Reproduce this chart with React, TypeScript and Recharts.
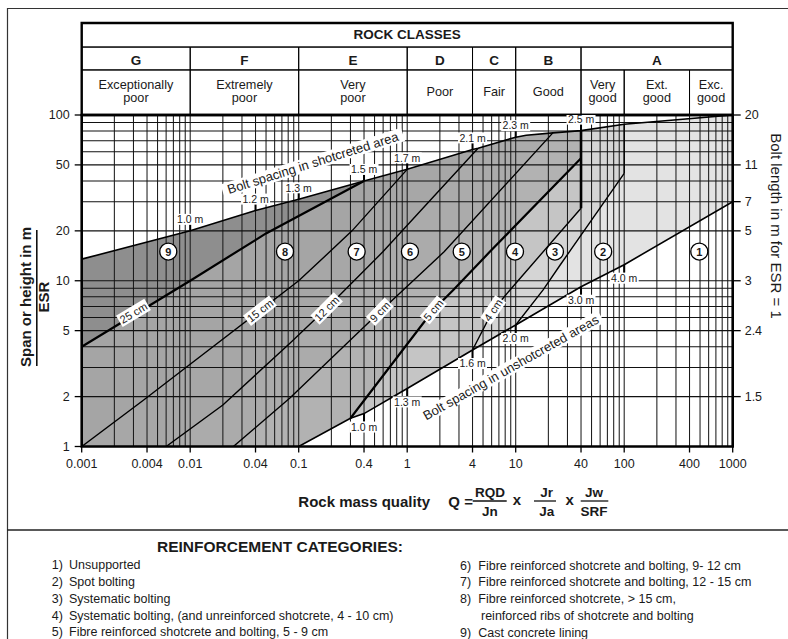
import React from 'react';
import { ComposedChart, XAxis, YAxis, Area, Line, Scatter, ReferenceLine, ReferenceArea } from 'recharts';

const FONT = '"Liberation Sans", Arial, Helvetica, sans-serif';
const INK = '#1a1a1a';

// ---------- axis ticks ----------
const qTicks = [0.001, 0.004, 0.01, 0.04, 0.1, 0.4, 1, 4, 10, 40, 100, 400, 1000];
const spanTicks = [1, 2, 5, 10, 20, 50, 100];
const boltSpanTicks = [2, 5, 10, 20, 30, 50, 100];
const boltLengthLabels = ['1.5', '2.4', '3', '5', '7', '11', '20'];

// ---------- grid values ----------
const qGrid = [
  0.002, 0.003, 0.004, 0.005, 0.006, 0.007, 0.008, 0.009,
  0.01, 0.02, 0.03, 0.04, 0.05, 0.06, 0.07, 0.08, 0.09,
  0.1, 0.2, 0.3, 0.4, 0.5, 0.6, 0.7, 0.8, 0.9,
  1, 2, 3, 4, 5, 6, 7, 8, 9,
  10, 20, 30, 40, 50, 60, 70, 80, 90,
  100, 200, 300, 400, 500, 600, 700, 800, 900,
];
const spanGrid = [2, 3, 4, 5, 6, 7, 8, 9, 10, 20, 30, 40, 50, 60, 70, 80, 90];

// ---------- rock classes header ----------
const classLetters = ['G', 'F', 'E', 'D', 'C', 'B', 'A'];
const classBounds = [0.001, 0.01, 0.1, 1, 4, 10, 40, 1000];
const classNames = [
  ['Exceptionally', 'poor'], ['Extremely', 'poor'], ['Very', 'poor'], ['Poor'], ['Fair'], ['Good'],
  ['Very', 'good'], ['Ext.', 'good'], ['Exc.', 'good'],
];
const classNameBounds = [0.001, 0.01, 0.1, 1, 4, 10, 40, 100, 400, 1000];

// ---------- boundaries (Q, span/ESR) ----------
const topBoundary = [
  { q: 0.001, s: 13.5 }, { q: 0.01, s: 20 }, { q: 0.04, s: 26.5 }, { q: 0.1, s: 31 },
  { q: 0.4, s: 40 }, { q: 1, s: 47 }, { q: 4, s: 62 }, { q: 4.5, s: 63 }, { q: 10, s: 73.5 },
  { q: 12.5, s: 75.5 }, { q: 22, s: 78 }, { q: 40, s: 80.5 }, { q: 100, s: 88 }, { q: 1000, s: 100 },
];
const lowerBoundary = [
  { q: 0.1, s: 1 }, { q: 0.3, s: 1.48 }, { q: 0.4, s: 1.58 }, { q: 1, s: 2.24 }, { q: 4, s: 3.82 },
  { q: 10, s: 5.41 }, { q: 40, s: 9.2 }, { q: 100, s: 12.5 }, { q: 1000, s: 30 },
];
const line25 = [{ q: 0.001, s: 4 }, { q: 0.01, s: 10 }, { q: 0.05, s: 19.3 }, { q: 0.4, s: 40 }];
const line15 = [
  { q: 0.001, s: 1 }, { q: 0.0037, s: 1.9 }, { q: 0.1, s: 10 }, { q: 0.19, s: 14.8 }, { q: 0.31, s: 20 }, { q: 1, s: 47 },
];
const line12 = [
  { q: 0.006, s: 1 }, { q: 0.02, s: 1.78 }, { q: 0.083, s: 4.2 }, { q: 0.18, s: 6.8 }, { q: 0.6, s: 15 }, { q: 4.5, s: 63 },
];
const line9 = [
  { q: 0.025, s: 1 }, { q: 0.083, s: 1.96 }, { q: 0.56, s: 6.5 }, { q: 0.92, s: 8.8 }, { q: 2.2, s: 15 }, { q: 22, s: 78 },
];
const line5 = [{ q: 0.3, s: 1.48 }, { q: 1.74, s: 6.66 }, { q: 2.66, s: 8.8 }, { q: 5.8, s: 15 }, { q: 40, s: 54.8 }];
const line4 = [{ q: 4, s: 3.82 }, { q: 6.2, s: 6.66 }, { q: 8.86, s: 8.8 }, { q: 40, s: 27.4 }];
const line3 = [{ q: 10, s: 5.41 }, { q: 17.9, s: 8.8 }, { q: 25.6, s: 12.4 }, { q: 100, s: 44.5 }];

// ---------- annotations ----------
const topMarkerQ = [0.01, 0.04, 0.1, 0.4, 1, 4, 10, 40];
const topMarkerLabels = ['1.0 m', '1.2 m', '1.3 m', '1.5 m', '1.7 m', '2.1 m', '2.3 m', '2.5 m'];
const lowerMarkerQ = [0.4, 1, 4, 10, 40, 100];
const lowerMarkerLabels = ['1.0 m', '1.3 m', '1.6 m', '2.0 m', '3.0 m', '4.0 m'];

const categoryNumbers = [1, 2, 3, 4, 5, 6, 7, 8, 9];
const categoryQ = [492, 64, 23, 9.85, 3.18, 1.06, 0.342, 0.0748, 0.00628];
const categorySpan = [15, 15, 15, 15, 15, 15, 15, 15, 15];

const thicknessLabels = ['25 cm', '15 cm', '12 cm', '9 cm', '5 cm', '4 cm'];
const thicknessQ = [0.003, 0.044, 0.181, 0.56, 1.74, 6.2];
const thicknessSpan = [6.4, 6.6, 6.8, 6.5, 6.66, 6.66];

const boundaryTexts = ['Bolt spacing in shotcreted area', 'Bolt spacing in unshotcreted areas'];
const boundaryTextQ = [0.135, 9];
const boundaryTextSpan = [51.5, 3.0];

const legendLeft = [
  'Unsupported', 'Spot bolting', 'Systematic bolting',
  'Systematic bolting, (and unreinforced shotcrete, 4 - 10 cm)',
  'Fibre reinforced shotcrete and bolting, 5 - 9 cm',
];
const legendRight = [
  ['Fibre reinforced shotcrete and bolting, 9- 12 cm'],
  ['Fibre reinforced shotcrete and bolting, 12 - 15 cm'],
  ['Fibre reinforced shotcrete, > 15 cm,', 'reinforced ribs of shotcrete and bolting'],
  ['Cast concrete lining'],
];

// ---------- styles (not data) ----------
const REGION_COLORS = {
  r9: '#8e8e8e', r8: '#a5a5a5', r7: '#a7a7a7', r6: '#ababab', r5: '#b2b2b2',
  r4: '#c5c5c5', r3: '#d5d5d5', r2: '#e3e3e3', r1: '#ffffff',
};
const THICKNESS_ANGLE: Record<string, number> = {
  '25 cm': -31, '15 cm': -38, '12 cm': -45, '9 cm': -46, '5 cm': -50, '4 cm': -56,
};
const BOUNDARY_TEXT_ANGLE: Record<string, number> = {
  'Bolt spacing in shotcreted area': -17.5,
  'Bolt spacing in unshotcreted areas': -29.5,
};
const HEADER_TOP = 359;
const HEADER_ROW1 = 257;
const HEADER_ROW2 = 187;

// ---------- derived tables ----------
const tail = (minQ: number, inclusive = false) =>
  topBoundary.filter((p) => (inclusive ? p.q >= minQ : p.q > minQ));
const fill9 = topBoundary;
const fill8 = [...line25, ...tail(0.4)];
const fill7 = [...line15, ...tail(1)];
const fill6 = [...line12, ...tail(4.5)];
const fill5 = [...line9, ...tail(22)];
const fill4 = line5;
const fill3 = [...line4, ...tail(40, true)];
const fill2 = [...line3, ...tail(100, true)];
const fill1 = lowerBoundary;
const vertical40 = [line4[line4.length - 1], topBoundary.find((p) => p.q === 40)!];
const vertical100 = [line3[line3.length - 1], topBoundary.find((p) => p.q === 100)!];

const topMarkers = topMarkerQ.map((q, i) => ({ q, s: topBoundary.find((p) => p.q === q)!.s, label: topMarkerLabels[i] }));
const lowerMarkers = lowerMarkerQ.map((q, i) => ({ q, s: lowerBoundary.find((p) => p.q === q)!.s, label: lowerMarkerLabels[i] }));
const categories = categoryNumbers.map((n, i) => ({ q: categoryQ[i], s: categorySpan[i], n }));
const thickness = thicknessLabels.map((t, i) => ({ q: thicknessQ[i], s: thicknessSpan[i], text: t }));
const bTexts = boundaryTexts.map((t, i) => ({ q: boundaryTextQ[i], s: boundaryTextSpan[i], text: t }));
const boltLabelOf = (v: number) => boltLengthLabels[boltSpanTicks.indexOf(v)] ?? '';

// ---------- shapes ----------
const TopMarkerShape = (p: any) => {
  const { cx, cy, payload } = p;
  const w = payload.label.length * 5.4 + 2;
  return (
    <g>
      <line x1={cx} y1={cy} x2={cx} y2={cy - 7} stroke="#000" strokeWidth={2} />
      <rect x={cx - w / 2} y={cy - 17} width={w} height={11} fill="#fff" />
      <text x={cx} y={cy - 7.8} textAnchor="middle" fontSize={10.5} fontFamily={FONT} fill={INK}>{payload.label}</text>
    </g>
  );
};
const LowerMarkerShape = (p: any) => {
  const { cx, cy, payload } = p;
  const w = payload.label.length * 5.4 + 2;
  return (
    <g>
      <line x1={cx} y1={cy} x2={cx} y2={cy + 8} stroke="#000" strokeWidth={2} />
      <rect x={cx - w / 2} y={cy + 8} width={w} height={11} fill="#fff" />
      <text x={cx} y={cy + 17.3} textAnchor="middle" fontSize={10.5} fontFamily={FONT} fill={INK}>{payload.label}</text>
    </g>
  );
};
const CategoryShape = (p: any) => {
  const { cx, cy, payload } = p;
  return (
    <g>
      <circle cx={cx} cy={cy} r={8.5} fill="#fff" stroke="#000" strokeWidth={1.3} />
      <text x={cx} y={cy + 4} textAnchor="middle" fontSize={11} fontWeight="bold" fontFamily={FONT} fill={INK}>{payload.n}</text>
    </g>
  );
};
const ThicknessShape = (p: any) => {
  const { cx, cy, payload } = p;
  const w = payload.text.length * 6 + 3;
  const a = THICKNESS_ANGLE[payload.text] ?? -45;
  return (
    <g transform={`translate(${cx},${cy}) rotate(${a})`}>
      <rect x={-w / 2} y={-6.5} width={w} height={13} fill="#fff" />
      <text x={0} y={4} textAnchor="middle" fontSize={11} fontFamily={FONT} fill={INK}>{payload.text}</text>
    </g>
  );
};
const BoundaryTextShape = (p: any) => {
  const { cx, cy, payload } = p;
  const a = BOUNDARY_TEXT_ANGLE[payload.text] ?? 0;
  const w = payload.text.length * 6.1;
  return (
    <g transform={`translate(${cx},${cy}) rotate(${a})`}>
      <rect x={-w / 2} y={-7} width={w} height={14} fill="#fff" />
      <text x={0} y={4.6} textAnchor="middle" fontSize={13} fontFamily={FONT} fill={INK}>{payload.text}</text>
    </g>
  );
};

const headerLabel = (lines: string[], bold: boolean, size: number, shift: number, lh = 13) => (props: any) => {
  const vb = props.viewBox || {};
  const cx = vb.x + vb.width / 2;
  const cy = vb.y + vb.height / 2 + shift;
  const y0 = cy - ((lines.length - 1) * lh) / 2;
  return (
    <text textAnchor="middle" fontFamily={FONT} fontSize={size} fontWeight={bold ? 'bold' : 'normal'} fill={INK}>
      {lines.map((l, i) => (
        <tspan key={i} x={cx} y={y0 + i * lh} dy="0.36em">{l}</tspan>
      ))}
    </text>
  );
};

const lineProps = { dataKey: 's', dot: false, activeDot: false, isAnimationActive: false, legendType: 'none' as const, type: 'linear' as const, stroke: '#000' };
const areaProps = { dataKey: 's', isAnimationActive: false, legendType: 'none' as const, type: 'linear' as const, stroke: 'none', fillOpacity: 1, baseValue: 1, activeDot: false, dot: false };

export default function App() {
  return (
    <div style={{ position: 'absolute', left: 0, top: 0, width: 788, height: 639, background: '#fff', fontFamily: FONT }}>
      <ComposedChart
        width={788}
        height={639}
        margin={{ top: 115, right: 15.3, bottom: 162.5, left: 21.7 }}
        style={{ fontFamily: FONT }}
      >
        <XAxis
          dataKey="q" type="number" scale="log" domain={[0.001, 1000]} allowDataOverflow
          ticks={qTicks} interval={0} tickFormatter={(v: number) => String(v)}
          axisLine={false} tickLine={{ stroke: '#000', strokeWidth: 1.3 }} tickSize={6} tickMargin={7} height={30}
          tick={{ fill: INK, fontSize: 12.5, fontFamily: FONT }}
        />
        <YAxis
          yAxisId={0} dataKey="s" type="number" scale="log" domain={[1, 100]} allowDataOverflow
          ticks={spanTicks} interval={0} tickFormatter={(v: number) => String(v)}
          axisLine={false} tickLine={{ stroke: '#000', strokeWidth: 1.3 }} tickSize={7} tickMargin={5} width={60}
          tick={{ fill: INK, fontSize: 12.5, fontFamily: FONT }}
        />
        <YAxis
          yAxisId="right" orientation="right" dataKey="s" type="number" scale="log" domain={[1, 100]} allowDataOverflow
          ticks={boltSpanTicks} interval={0} tickFormatter={boltLabelOf}
          axisLine={false} tickLine={{ stroke: '#000', strokeWidth: 1.3 }} tickSize={8} tickMargin={4} width={40}
          tick={{ fill: INK, fontSize: 12.5, fontFamily: FONT }}
        />

        {/* region fills, painted in order */}
        <Area {...areaProps} data={fill9} fill={REGION_COLORS.r9} zIndex={100} />
        <Area {...areaProps} data={fill8} fill={REGION_COLORS.r8} zIndex={100} />
        <Area {...areaProps} data={fill7} fill={REGION_COLORS.r7} zIndex={100} />
        <Area {...areaProps} data={fill6} fill={REGION_COLORS.r6} zIndex={100} />
        <Area {...areaProps} data={fill5} fill={REGION_COLORS.r5} zIndex={100} />
        <Area {...areaProps} data={fill4} fill={REGION_COLORS.r4} zIndex={100} />
        <Area {...areaProps} data={fill3} fill={REGION_COLORS.r3} zIndex={100} />
        <Area {...areaProps} data={fill2} fill={REGION_COLORS.r2} zIndex={100} />
        <Area {...areaProps} data={fill1} fill={REGION_COLORS.r1} zIndex={100} />

        {/* log grid */}
        {qGrid.map((q) => (
          <ReferenceLine key={'vx' + q} x={q} stroke="#1c1c1c" strokeWidth={1.05} zIndex={150} />
        ))}
        {spanGrid.map((s) => (
          <ReferenceLine key={'hy' + s} y={s} stroke="#111" strokeWidth={1.05} zIndex={150} />
        ))}

        {/* boundary lines */}
        <Line {...lineProps} data={topBoundary} strokeWidth={1.6} zIndex={400} />
        <Line {...lineProps} data={lowerBoundary} strokeWidth={1.6} zIndex={400} />
        <Line {...lineProps} data={line25} strokeWidth={2.2} zIndex={400} />
        <Line {...lineProps} data={line15} strokeWidth={1.4} zIndex={400} />
        <Line {...lineProps} data={line12} strokeWidth={1.4} zIndex={400} />
        <Line {...lineProps} data={line9} strokeWidth={1.4} zIndex={400} />
        <Line {...lineProps} data={line5} strokeWidth={2.2} zIndex={400} />
        <Line {...lineProps} data={line4} strokeWidth={1.4} zIndex={400} />
        <Line {...lineProps} data={line3} strokeWidth={1.4} zIndex={400} />
        <Line {...lineProps} data={vertical40} strokeWidth={2.6} zIndex={400} />
        <Line {...lineProps} data={vertical100} strokeWidth={1.4} zIndex={400} />

        {/* plot frame */}
        <ReferenceArea x1={0.001} x2={1000} y1={1} y2={100} fill="none" stroke="#000" strokeWidth={2.6} ifOverflow="visible" zIndex={450} />

        {/* rock classes header */}
        <ReferenceArea
          x1={0.001} x2={1000} y1={HEADER_ROW1} y2={HEADER_TOP} fill="none" stroke="#000" strokeWidth={1}
          ifOverflow="visible" zIndex={450} label={headerLabel(['ROCK CLASSES'], true, 13.5, -1.2)}
        />
        {classLetters.map((c, i) => (
          <ReferenceArea
            key={'cl' + c} x1={classBounds[i]} x2={classBounds[i + 1]} y1={HEADER_ROW2} y2={HEADER_ROW1}
            fill="none" stroke="#000" strokeWidth={1} ifOverflow="visible" zIndex={450}
            label={headerLabel([c], true, 13.5, 1.6)}
          />
        ))}
        {classNames.map((n, i) => (
          <ReferenceArea
            key={'cn' + i} x1={classNameBounds[i]} x2={classNameBounds[i + 1]} y1={100} y2={HEADER_ROW2}
            fill="none" stroke="#000" strokeWidth={1} ifOverflow="visible" zIndex={450}
            label={headerLabel(n, false, 12.7, -1.3)}
          />
        ))}
        <ReferenceArea x1={0.001} x2={1000} y1={100} y2={HEADER_TOP} fill="none" stroke="#000" strokeWidth={2.4} ifOverflow="visible" zIndex={460} />

        {/* annotations */}
        <Scatter data={topMarkers} shape={TopMarkerShape} isAnimationActive={false} legendType="none" zIndex={600} />
        <Scatter data={lowerMarkers} shape={LowerMarkerShape} isAnimationActive={false} legendType="none" zIndex={600} />
        <Scatter data={thickness} shape={ThicknessShape} isAnimationActive={false} legendType="none" zIndex={600} />
        <Scatter data={bTexts} shape={BoundaryTextShape} isAnimationActive={false} legendType="none" zIndex={600} />
        <Scatter data={categories} shape={CategoryShape} isAnimationActive={false} legendType="none" zIndex={600} />
      </ComposedChart>

      <svg width={788} height={639} style={{ position: 'absolute', left: 0, top: 0, pointerEvents: 'none' }} fontFamily={FONT}>
        {/* frame lines */}
        <line x1={7} y1={8.5} x2={788} y2={8.5} stroke="#333" strokeWidth={1.2} />
        <line x1={7.5} y1={8} x2={7.5} y2={639} stroke="#333" strokeWidth={1.2} />
        <line x1={7} y1={530} x2={788} y2={530} stroke="#222" strokeWidth={1.4} />

        {/* left axis title */}
        <text transform="translate(31,297) rotate(-90)" textAnchor="middle" fontSize={15} fontWeight="bold" fill={INK}>Span or height in m</text>
        <line x1={36.8} y1={230} x2={36.8} y2={366} stroke="#111" strokeWidth={1.6} />
        <text transform="translate(49,297) rotate(-90)" textAnchor="middle" fontSize={15} fontWeight="bold" fill={INK}>ESR</text>

        {/* right axis title */}
        <text transform="translate(771,226) rotate(90)" textAnchor="middle" fontSize={15} fill={INK}>Bolt length in m for ESR = 1</text>

        {/* bottom title */}
        <text x={298.3} y={506.5} fontSize={15} fontWeight="bold" fill={INK}>Rock mass quality</text>
        <text x={448.3} y={506.5} fontSize={15} fontWeight="bold" fill={INK}>Q =</text>
        <text x={490} y={496.5} textAnchor="middle" fontSize={13.5} fontWeight="bold" fill={INK}>RQD</text>
        <line x1={472.7} y1={501} x2={506.7} y2={501} stroke="#111" strokeWidth={1.3} />
        <text x={490} y={516} textAnchor="middle" fontSize={13.5} fontWeight="bold" fill={INK}>Jn</text>
        <text x={517} y={505} textAnchor="middle" fontSize={15} fontWeight="bold" fill={INK}>x</text>
        <text x={546.7} y={496.5} textAnchor="middle" fontSize={13.5} fontWeight="bold" fill={INK}>Jr</text>
        <line x1={534} y1={501} x2={556} y2={501} stroke="#111" strokeWidth={1.3} />
        <text x={546.7} y={516} textAnchor="middle" fontSize={13.5} fontWeight="bold" fill={INK}>Ja</text>
        <text x={569.7} y={505} textAnchor="middle" fontSize={15} fontWeight="bold" fill={INK}>x</text>
        <text x={594} y={496.5} textAnchor="middle" fontSize={13.5} fontWeight="bold" fill={INK}>Jw</text>
        <line x1={580.7} y1={501} x2={608.3} y2={501} stroke="#111" strokeWidth={1.3} />
        <text x={594} y={516} textAnchor="middle" fontSize={13.5} fontWeight="bold" fill={INK}>SRF</text>

        {/* legend */}
        <text x={157} y={551.5} fontSize={15.5} fontWeight="bold" fill={INK}>REINFORCEMENT CATEGORIES:</text>
        {legendLeft.map((t, i) => (
          <g key={'ll' + i}>
            <text x={51.7} y={569.3 + i * 16.75} fontSize={12.5} fill={INK}>{`${i + 1})`}</text>
            <text x={69} y={569.3 + i * 16.75} fontSize={12.5} fill={INK}>{t}</text>
          </g>
        ))}
        {(() => {
          let row = 0;
          return legendRight.map((lines, i) => {
            const els = lines.map((t, j) => {
              const y = 569.5 + (row + j) * 16.75;
              return (
                <g key={'lr' + i + '-' + j}>
                  {j === 0 && <text x={460} y={y} fontSize={12.5} fill={INK}>{`${i + 6})`}</text>}
                  <text x={j === 0 ? 478.3 : 481} y={y} fontSize={12.5} fill={INK}>{t}</text>
                </g>
              );
            });
            row += lines.length;
            return els;
          });
        })()}
      </svg>
    </div>
  );
}
